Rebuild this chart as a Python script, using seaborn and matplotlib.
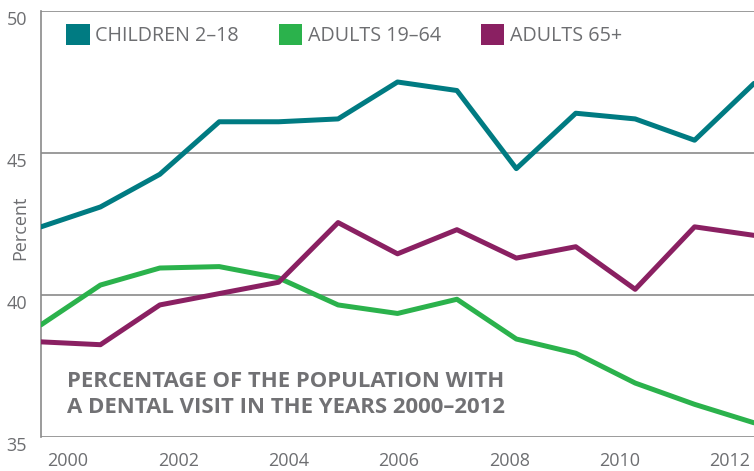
import matplotlib
matplotlib.use("Agg")
import matplotlib.pyplot as plt
import seaborn as sns
import pandas as pd
from matplotlib.patches import Patch

years = list(range(2000, 2013))
children = [42.4, 43.1, 44.25, 46.1, 46.1, 46.2, 47.5, 47.2, 44.45, 46.4, 46.2, 45.45, 47.45]
adults = [38.95, 40.35, 40.95, 41.0, 40.6, 39.65, 39.35, 39.85, 38.45, 37.95, 36.9, 36.15, 35.5]
seniors = [38.35, 38.25, 39.65, 40.05, 40.45, 42.55, 41.45, 42.3, 41.3, 41.7, 40.2, 42.4, 42.1]
series_names = ["CHILDREN 2\u201318", "ADULTS 19\u201364", "ADULTS 65+"]
colors = ["#007B82", "#2BB24C", "#8A2062"]
tick_labels = [2000, 2002, 2004, 2006, 2008, 2010, 2012]
y_ticks = [35, 40, 45, 50]

df = pd.DataFrame({
    "year": years * 3,
    "value": children + adults + seniors,
    "group": [series_names[0]] * 13 + [series_names[1]] * 13 + [series_names[2]] * 13,
})

sns.set_style("white")
plt.rcParams["font.family"] = ["Open Sans", "DejaVu Sans"]
gray = "#6d6e71"

fig = plt.figure(figsize=(7.54, 4.71), dpi=100)
ax = fig.add_axes([41 / 754, 1 - 437 / 471, 1 - 41 / 754, 426 / 471])

sns.lineplot(data=df, x="year", y="value", hue="group", palette=dict(zip(series_names, colors)),
             linewidth=3.6, ax=ax, legend=False, zorder=3)

ax.set_xlim(2000, 2012)
ax.set_ylim(35, 50)
ax.set_yticks(y_ticks)
ax.set_yticklabels([str(v) for v in y_ticks], color=gray, fontsize=13, va="top")
ax.tick_params(axis="y", length=0, pad=10)
tick_pos = [2000.454 + (t - 2000) * 0.9285 for t in tick_labels]
ax.set_xticks(tick_pos)
ax.set_xticklabels([str(t) for t in tick_labels], color=gray, fontsize=13)
ax.tick_params(axis="x", length=0, pad=11)

ax.grid(axis="y", color="#8a8a8a", linewidth=1.2, zorder=1)
ax.grid(axis="x", visible=False)
for s in ["top", "right", "bottom"]:
    ax.spines[s].set_visible(False)
ax.spines["left"].set_color("#8a8a8a")
ax.spines["left"].set_linewidth(1.2)

ax.set_xlabel("")
ax.set_ylabel("Percent", color=gray, fontsize=13, labelpad=4)
ax.yaxis.set_label_coords(-0.016, 0.49)

handles = [Patch(facecolor=c, edgecolor="none") for c in colors]
leg = ax.legend(handles, series_names, loc="upper left", bbox_to_anchor=(0.01, 1.01), ncol=3,
                frameon=False, handlelength=1.2, handleheight=1.2, handletextpad=0.3,
                columnspacing=2.0, prop={"size": 14.2})
for t in leg.get_texts():
    t.set_color(gray)

ax.text(0.037, 0.045, "PERCENTAGE OF THE POPULATION WITH\nA DENTAL VISIT IN THE YEARS 2000\u20132012",
        transform=ax.transAxes, fontsize=15.9, fontweight="bold", color="#717174",
        linespacing=1.3, va="bottom", ha="left")

fig.savefig("out.png", dpi=100)
